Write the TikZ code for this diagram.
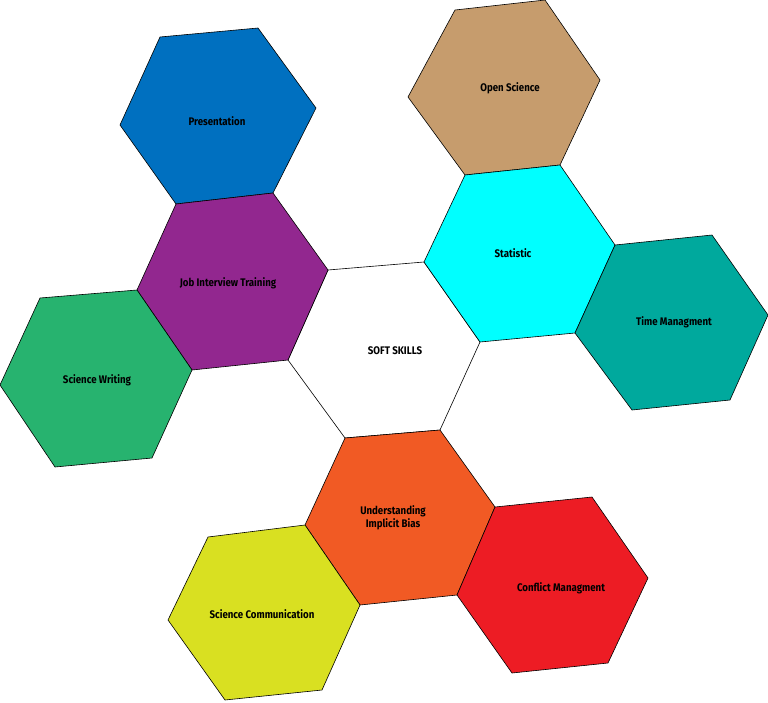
\documentclass[tikz,border=0pt]{standalone}
\usepackage{fontspec}
\setmainfont{Fira Sans}
\definecolor{cblue}{HTML}{0070C0}
\definecolor{cpurple}{HTML}{92278F}
\definecolor{cgreen}{HTML}{27B36F}
\definecolor{ctan}{HTML}{C69C6D}
\definecolor{ccyan}{HTML}{00FFFF}
\definecolor{cteal}{HTML}{00A99D}
\definecolor{corange}{HTML}{F15A24}
\definecolor{cred}{HTML}{ED1C24}
\definecolor{cyellow}{HTML}{D9E021}
\begin{document}
\begin{tikzpicture}[x=1pt,y=-1pt,
  hex/.style={draw=black,line width=0.6pt,line join=round},
  lbl/.style={font=\bfseries\fontsize{11}{13}\selectfont,align=center,text=black,xscale=0.88}]
\useasboundingbox (0,0) rectangle (768,702);
\filldraw[hex,fill=white] (328,270)--(424,262)--(480,342)--(440,430)--(345,438)--(288,360)--cycle;
\filldraw[hex,fill=cblue] (160,37)--(258,28)--(316,108)--(273,193)--(176,204)--(120,125)--cycle;
\filldraw[hex,fill=cpurple] (176,204)--(273,193)--(328,270)--(288,360)--(192,370)--(137,290)--cycle;
\filldraw[hex,fill=cgreen] (40,298)--(137,290)--(192,370)--(152,458)--(55,467)--(0,385)--cycle;
\filldraw[hex,fill=ctan] (455,10)--(545,0)--(600,80)--(560,165)--(465,175)--(408,97)--cycle;
\filldraw[hex,fill=ccyan] (465,175)--(560,165)--(615,245)--(575,333)--(480,342)--(424,262)--cycle;
\filldraw[hex,fill=cteal] (615,245)--(712,235)--(768,315)--(730,400)--(632,410)--(575,333)--cycle;
\filldraw[hex,fill=corange] (345,438)--(440,430)--(495,507)--(457,595)--(360,605)--(305,525)--cycle;
\filldraw[hex,fill=cred] (495,507)--(592,497)--(648,578)--(608,663)--(512,673)--(457,595)--cycle;
\filldraw[hex,fill=cyellow] (208,537)--(305,525)--(360,605)--(322,690)--(225,700)--(168,620)--cycle;
\node[lbl] (c) at (395,351) {SOFT SKILLS};
\node[lbl] (p) at (217,121) {Presentation};
\node[lbl] (j) at (228,283) {Job Interview Training};
\node[lbl] (w) at (97,380) {Science Writing};
\node[lbl] (o) at (510,88) {Open Science};
\node[lbl] (s) at (513,253) {Statistic};
\node[lbl] (t) at (674,322) {Time Managment};
\node[lbl] (u) at (393,518) {Understanding\\Implicit Bias};
\node[lbl] (f) at (561,588) {Conflict Managment};
\node[lbl] (sc) at (262,614) {Science Communication};
\end{tikzpicture}
\end{document}
